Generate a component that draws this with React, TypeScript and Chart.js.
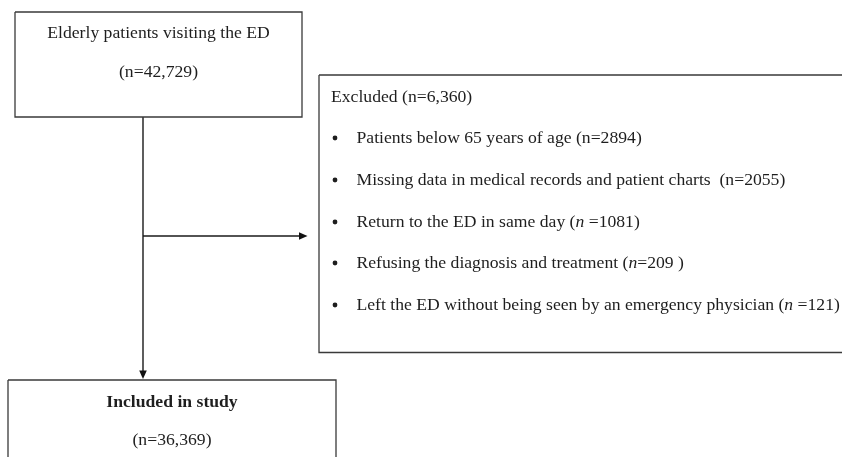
import React, { useEffect, useRef } from "react";
import { Chart, registerables } from "chart.js";

Chart.register(...registerables);

// ---- data (text content of the flow diagram) ----
const topTitle = "Elderly patients visiting the ED";
const topCount = "42,729";
const bottomTitle = "Included in study";
const bottomCount = "36,369";
const excludedCount = "6,360";
const reasonLabels = [
  "Patients below 65 years of age",
  "Missing data in medical records and patient charts ",
  "Return to the ED in same day",
  "Refusing the diagnosis and treatment",
  "Left the ED without being seen by an emergency physician",
];
const reasonCounts = ["2894", "2055", "1081", "209", "121"];
const reasonItalicN = [false, false, true, true, true];
const reasonEquals = ["=", "=", " =", "=", " ="];
const reasonTrail = ["", "", "", " ", ""];

// ---- layout (diagram coordinates, same units as the hidden scales) ----
const W = 842;
const H = 457;
const box1 = { x0: 15, x1: 302, y0: 12, y1: 117 };
const box2 = { x0: 319, x1: 870, y0: 75, y1: 352.5 };
const box3 = { x0: 8, x1: 336, y0: 380, y1: 480 };
const trunkX = 143;
const branchY = 236;
const reasonYs = [138, 180, 222, 263, 305];

const FONT = "'Liberation Serif', 'Times New Roman', serif";
const FS = 17.65;
const TEXT = "#1e1e1e";
const LINE = "#3a3a3a";

function rect(b: { x0: number; x1: number; y0: number; y1: number }) {
  return [
    { x: b.x0, y: b.y0 },
    { x: b.x1, y: b.y0 },
    { x: b.x1, y: b.y1 },
    { x: b.x0, y: b.y1 },
    { x: b.x0, y: b.y0 },
  ];
}

const flowPlugin = {
  id: "flowText",
  afterDatasetsDraw(chart: any) {
    const ctx = chart.ctx as CanvasRenderingContext2D;
    const sx = chart.scales.x;
    const sy = chart.scales.y;
    const px = (v: number) => sx.getPixelForValue(v);
    const py = (v: number) => sy.getPixelForValue(v);
    ctx.save();
    ctx.textBaseline = "middle";

    // arrow heads
    ctx.fillStyle = "#111";
    const down = { x: trunkX, y: box3.y0 - 1 };
    ctx.beginPath();
    ctx.moveTo(px(down.x), py(down.y));
    ctx.lineTo(px(down.x - 3.8), py(down.y - 8.5));
    ctx.lineTo(px(down.x + 3.8), py(down.y - 8.5));
    ctx.closePath();
    ctx.fill();
    const right = { x: 307.5, y: branchY };
    ctx.beginPath();
    ctx.moveTo(px(right.x), py(right.y));
    ctx.lineTo(px(right.x - 8.5), py(right.y - 3.8));
    ctx.lineTo(px(right.x - 8.5), py(right.y + 3.8));
    ctx.closePath();
    ctx.fill();

    ctx.fillStyle = TEXT;
    const normal = `${FS}px ${FONT}`;
    const italic = `italic ${FS}px ${FONT}`;
    const bold = `bold ${FS}px ${FONT}`;

    // top box
    ctx.textAlign = "center";
    ctx.font = normal;
    const c1 = (box1.x0 + box1.x1) / 2;
    ctx.fillText(topTitle, px(c1), py(33));
    ctx.fillText(`(n=${topCount})`, px(c1), py(72));

    // bottom box
    const c3 = (box3.x0 + box3.x1) / 2;
    ctx.font = bold;
    ctx.fillText(bottomTitle, px(c3), py(402));
    ctx.font = normal;
    ctx.fillText(`(n=${bottomCount})`, px(c3), py(440));

    // excluded box
    ctx.textAlign = "left";
    ctx.font = normal;
    ctx.fillText(`Excluded (n=${excludedCount})`, px(331), py(97));
    reasonLabels.forEach((label, i) => {
      const y = py(reasonYs[i]);
      ctx.beginPath();
      ctx.arc(px(335), y, 2.4, 0, Math.PI * 2);
      ctx.fill();
      let x = px(356.5);
      const segs: [string, string][] = [
        [label + " (", normal],
        ["n", reasonItalicN[i] ? italic : normal],
        [reasonEquals[i] + reasonCounts[i] + reasonTrail[i] + ")", normal],
      ];
      segs.forEach(([t, f]) => {
        ctx.font = f;
        ctx.fillText(t, x, y);
        x += ctx.measureText(t).width;
      });
    });
    ctx.restore();
  },
};

export default function App() {
  const ref = useRef<HTMLCanvasElement | null>(null);
  useEffect(() => {
    document.body.style.margin = "0";
    const canvas = ref.current;
    if (!canvas) return;
    const line = (data: { x: number; y: number }[], color: string, width: number) => ({
      type: "line" as const,
      data,
      borderColor: color,
      borderWidth: width,
      pointRadius: 0,
      showLine: true,
      fill: false,
      tension: 0,
    });
    const chart = new Chart(canvas, {
      type: "scatter",
      data: {
        datasets: [
          line(rect(box1), LINE, 1.3),
          line(rect(box2), LINE, 1.3),
          line(rect(box3), LINE, 1.3),
          line([{ x: trunkX, y: box1.y1 }, { x: trunkX, y: box3.y0 - 6 }], "#1a1a1a", 1.4),
          line([{ x: trunkX, y: branchY }, { x: 301, y: branchY }], "#1a1a1a", 1.4),
        ] as any,
      },
      options: {
        animation: false,
        responsive: false,
        maintainAspectRatio: false,
        layout: { padding: 0 },
        plugins: { legend: { display: false }, tooltip: { enabled: false } },
        scales: {
          x: { type: "linear", min: 0, max: W, display: false },
          y: { type: "linear", min: 0, max: H, reverse: true, display: false },
        },
      },
      plugins: [flowPlugin],
    });
    return () => chart.destroy();
  }, []);
  return (
    <div style={{ width: W, height: H, background: "#fff" }}>
      <canvas ref={ref} width={W} height={H} style={{ display: "block" }} />
    </div>
  );
}
